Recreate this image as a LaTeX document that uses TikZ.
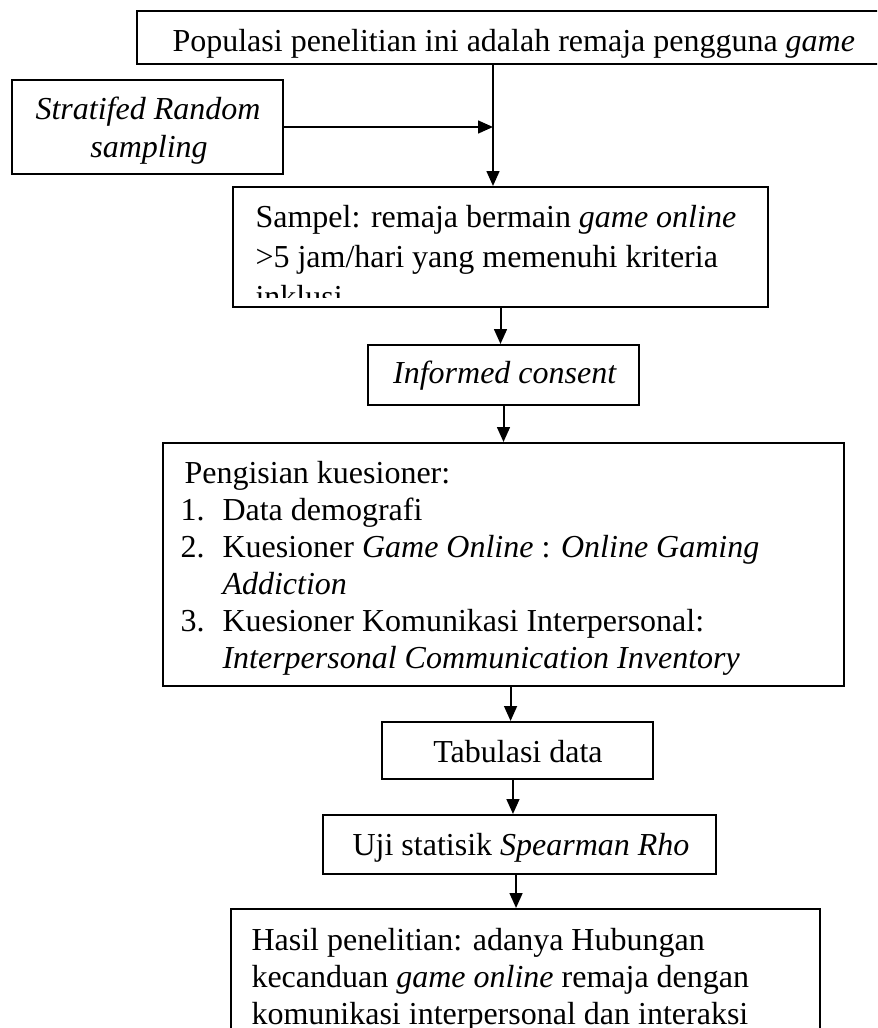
\documentclass[tikz,border=0pt]{standalone}
\usepackage{fontspec}
\setmainfont{Liberation Serif}
\usetikzlibrary{arrows.meta,fit}

\begin{document}
\begin{tikzpicture}[
  x=0.375pt, y=0.375pt,
  box/.style={draw, line width=0.75pt, inner sep=0pt},
  txt/.style={inner sep=0pt, font=\fontsize{12}{14}\selectfont},
  arr/.style={-{Triangle[length=5.6pt,width=4.8pt]}, line width=0.75pt}
]

\useasboundingbox (0,0) rectangle (877,-1028);
\clip (0,0) rectangle (877,-1028);

% ------------------------------------------------------------
% Population and sampling
% ------------------------------------------------------------
\node[box, fit={(137,-11) (892,-64)}] (pop) {};
\node[txt, anchor=base west] (popt) at (172,-51)
  {Populasi penelitian ini adalah remaja pengguna \textit{game}};

\node[box, fit={(12,-80) (283,-174)}] (strat) {};
\node[txt, anchor=base] (strat1) at (148,-119) {\textit{Stratifed Random}};
\node[txt, anchor=base] (strat2) at (149,-157) {\textit{sampling}};

\coordinate (join) at (493,-127);

\node[box, fit={(233,-187) (768,-307)}] (samp) {};
\node[txt, anchor=base west] (samp1) at (255,-227)
  {Sampel: remaja bermain \textit{game online}};
\node[txt, anchor=base west] (samp2) at (255,-267)
  {>5 jam/hari yang memenuhi kriteria};
\begin{scope}
  \clip (233,-187) rectangle (768,-297);
  \node[txt, anchor=base west] (samp3) at (255,-307) {inklusi};
\end{scope}

% ------------------------------------------------------------
% Consent and questionnaire
% ------------------------------------------------------------
\node[box, fit={(368,-345) (639,-405)}] (inf) {};
\node[txt, anchor=base] (inft) at (505,-383) {\textit{Informed consent}};

\node[box, fit={(163,-443) (844,-686)}] (quest) {};
\node[txt, anchor=base west] (q0) at (184,-483) {Pengisian kuesioner:};
\node[txt, anchor=base west] (n1) at (180,-520) {1.};
\node[txt, anchor=base west] (q1) at (222,-520) {Data demografi};
\node[txt, anchor=base west] (n2) at (180,-557) {2.};
\node[txt, anchor=base west] (q2) at (222,-557)
  {Kuesioner \textit{Game Online} : \textit{Online Gaming}};
\node[txt, anchor=base west] (q2b) at (222,-594) {\textit{Addiction}};
\node[txt, anchor=base west] (n3) at (180,-631) {3.};
\node[txt, anchor=base west] (q3) at (222,-631)
  {Kuesioner Komunikasi Interpersonal:};
\node[txt, anchor=base west] (q3b) at (222,-668)
  {\textit{Interpersonal Communication Inventory}};

% ------------------------------------------------------------
% Analysis and result
% ------------------------------------------------------------
\node[box, fit={(382,-722) (653,-779)}] (tab) {};
\node[txt, anchor=base] (tabt) at (518,-762) {Tabulasi data};

\node[box, fit={(323,-815) (716,-874)}] (uji) {};
\node[txt, anchor=base] (ujit) at (521,-855)
  {Uji statisik \textit{Spearman Rho}};

\node[box, fit={(231,-909) (820,-1100)}] (hasil) {};
\node[txt, anchor=base west] (h1) at (251,-950)
  {Hasil penelitian: adanya Hubungan};
\node[txt, anchor=base west] (h2) at (251,-987)
  {kecanduan \textit{game online} remaja dengan};
\node[txt, anchor=base west] (h3) at (251,-1024)
  {komunikasi interpersonal dan interaksi};

% arrows
\draw[line width=0.75pt] (pop.south -| join) -- (join);
\draw[arr] (join) -- (samp.north -| join);
\draw[arr] (strat.east) -- (join);
\draw[arr] (samp.south) -- (samp.south |- inf.north);
\draw[arr] (inf.south) -- (inf.south |- quest.north);
\draw[arr] ([xshift=-2.6pt]tab.north |- quest.south) -- ([xshift=-2.6pt]tab.north);
\draw[arr] ([xshift=-1.7pt]tab.south) -- ([xshift=-1.7pt]tab.south |- uji.north);
\draw[arr] ([xshift=-1.3pt]uji.south) -- ([xshift=-1.3pt]uji.south |- hasil.north);

\end{tikzpicture}
\end{document}
